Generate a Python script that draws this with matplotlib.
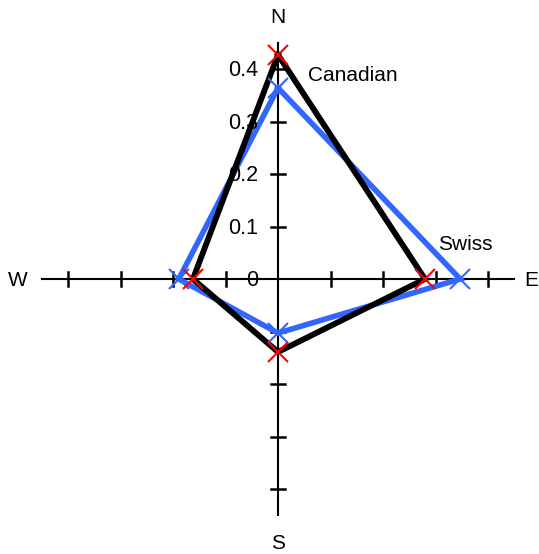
import matplotlib
matplotlib.use("Agg")
import matplotlib.pyplot as plt

plt.rcParams['font.family'] = ['Liberation Sans', 'DejaVu Sans']

directions = ["N", "E", "S", "W"]
canadian = [0.427, 0.280, 0.139, 0.162]
swiss = [0.364, 0.347, 0.103, 0.189]
tick_vals = [0.1, 0.2, 0.3, 0.4]
tick_labels = ["0", "0.1", "0.2", "0.3", "0.4"]
axis_len = 0.45

dir_vec = {"N": (0, 1), "E": (1, 0), "S": (0, -1), "W": (-1, 0)}

def to_xy(vals):
    xs, ys = [], []
    for d, v in zip(directions, vals):
        dx, dy = dir_vec[d]
        xs.append(dx * v)
        ys.append(dy * v)
    return xs + [xs[0]], ys + [ys[0]]

fig = plt.figure(figsize=(5.39, 5.54), dpi=100)
ax = fig.add_axes([0, 0, 1, 1])
scale = 525.0
ax.set_xlim(-278 / scale, (539 - 278) / scale)
ax.set_ylim(-(554 - 279) / scale, 279 / scale)
ax.axis("off")

# axes
ax.plot([-axis_len, axis_len], [0, 0], color="black", lw=1.5, zorder=1)
ax.plot([0, 0], [-axis_len, axis_len], color="black", lw=1.5, zorder=1)
tl = 0.013
for t in tick_vals:
    for d in directions:
        dx, dy = dir_vec[d]
        if dx != 0:
            ax.plot([dx * t, dx * t], [-tl, tl], color="black", lw=1.8, zorder=1)
        else:
            ax.plot([-tl, tl], [dy * t, dy * t], color="black", lw=1.8, zorder=1)

# tick labels along N axis
for i, lab in enumerate(tick_labels):
    ax.text(-0.037, i * 0.1 - 0.003, lab, ha="right", va="center", fontsize=15.5)

# compass labels
ax.text(0, 0.498, "N", ha="center", va="center", fontsize=15)
ax.text(0.483, -0.002, "E", ha="center", va="center", fontsize=15)
ax.text(0, -0.504, "S", ha="center", va="center", fontsize=15)
ax.text(-0.495, -0.002, "W", ha="center", va="center", fontsize=15)

# series
cx, cy = to_xy(canadian)
sx, sy = to_xy(swiss)
ax.plot(sx, sy, color="#3366FF", lw=4.0, zorder=2, solid_joinstyle="miter")
ax.plot(cx, cy, color="black", lw=4.2, zorder=3, solid_joinstyle="miter")
ax.plot(sx[:-1], sy[:-1], ls="none", marker="x", ms=15, mew=1.5, color="#3366FF", zorder=4)
ax.plot(cx[:-1], cy[:-1], ls="none", marker="x", ms=15, mew=1.5, color="red", zorder=5)

ax.text(0.057, 0.387, "Canadian", ha="left", va="center", fontsize=15)
ax.text(0.305, 0.065, "Swiss", ha="left", va="center", fontsize=15)

fig.savefig("out.png", dpi=100)
